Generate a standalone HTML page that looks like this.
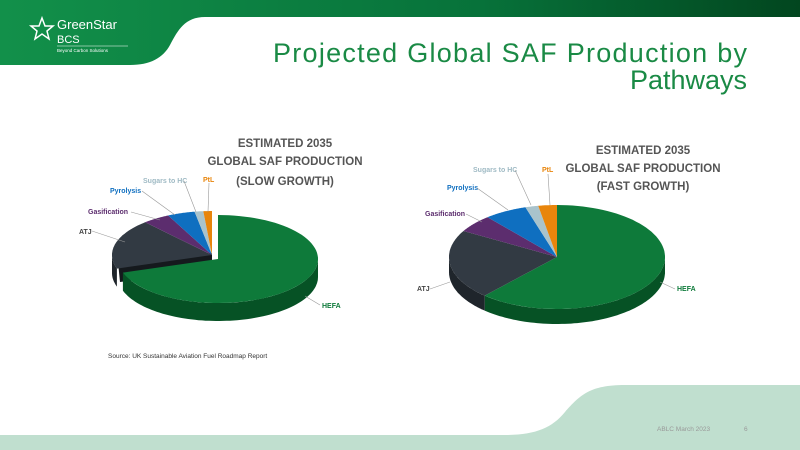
<!DOCTYPE html>
<html><head><meta charset="utf-8"><style>
html,body{margin:0;padding:0;background:#fff}
body{width:800px;height:450px;overflow:hidden;position:relative;font-family:"Liberation Sans",sans-serif}
</style></head><body>
<svg id="s" width="800" height="450" viewBox="0 0 800 450" xmlns="http://www.w3.org/2000/svg" style="position:absolute;left:0;top:0">
<defs>
<linearGradient id="hg" x1="0" x2="1" y1="0" y2="0">
<stop offset="0" stop-color="#12904a"/><stop offset="0.6" stop-color="#07723a"/><stop offset="1" stop-color="#02461f"/>
</linearGradient>
</defs>
<path d="M0 0 H800 V17 H205 C185 17 178 30 170 45 C163 58 150 65 130 65 H0 Z" fill="url(#hg)"/>
<path d="M800 385 H625 C590 385 580 395 565 412 C552 428 535 435 505 435 H0 V450 H800 Z" fill="#c0dfcf"/>
<text x="57" y="29" font-size="13" fill="#fff">GreenStar</text>
<text x="57" y="43" font-size="11" fill="#fff">BCS</text>
<line x1="57" y1="46" x2="128" y2="46" stroke="#fff" stroke-width="0.5"/>
<text x="57" y="52" font-size="4.5" fill="#fff">Beyond Carbon Solutions</text>
<polygon points="42,18 45,26 53,26 47,31 49,39 42,34 35,39 37,31 31,26 39,26" fill="none" stroke="#fff" stroke-width="1.5"/>
<text x="747" y="62" font-size="27" fill="#1a8a45" text-anchor="end" textLength="474" lengthAdjust="spacing">Projected Global SAF Production by</text>
<text x="747" y="89" font-size="27" fill="#1a8a45" text-anchor="end">Pathways</text>
<g id="pies"></g>
<g font-weight="bold" fill="#555" font-size="11.5" text-anchor="middle">
<text x="285" y="147">ESTIMATED 2035</text><text x="285" y="165">GLOBAL SAF PRODUCTION</text><text x="285" y="185">(SLOW GROWTH)</text>
<text x="643" y="154">ESTIMATED 2035</text><text x="643" y="172">GLOBAL SAF PRODUCTION</text><text x="643" y="190">(FAST GROWTH)</text>
</g>
<g font-weight="bold" font-size="7">
<text x="79" y="234" fill="#444">ATJ</text>
<text x="88" y="214" fill="#5c2d6e">Gasification</text>
<text x="110" y="193" fill="#0f6fc0">Pyrolysis</text>
<text x="143" y="183" fill="#9fbac4">Sugars to HC</text>
<text x="203" y="182" fill="#e8850c">PtL</text>
<text x="322" y="308" fill="#0e7a3a">HEFA</text>
<text x="417" y="291" fill="#444">ATJ</text>
<text x="425" y="216" fill="#5c2d6e">Gasification</text>
<text x="447" y="190" fill="#0f6fc0">Pyrolysis</text>
<text x="473" y="172" fill="#9fbac4">Sugars to HC</text>
<text x="542" y="172" fill="#e8850c">PtL</text>
<text x="677" y="291" fill="#0e7a3a">HEFA</text>
</g>
<g stroke="#999" stroke-width="0.6" fill="none">
<path d="M92 231 L125 242"/><path d="M131 212 L160 220"/><path d="M142 191 L175 215"/><path d="M184 181 L196 212"/><path d="M209 183 L208 212"/><path d="M320 305 L305 296"/>
<path d="M430 289 L450 282"/><path d="M466 214 L482 222"/><path d="M477 188 L508 210"/><path d="M515 170 L531 205"/><path d="M548 174 L550 205"/><path d="M675 289 L660 282"/>
</g>
<text x="108" y="358" font-size="6.5" fill="#333">Source: UK Sustainable Aviation Fuel Roadmap Report</text>
<text x="657" y="431" font-size="6.5" fill="#999">ABLC March 2023</text>
<text x="744" y="431" font-size="6.5" fill="#999">6</text>
</svg>
<script>
var g=document.getElementById('pies');
var C={H:['#0e7a3a','#065225'],A:['#323a43','#1f252b'],G:['#5c2d6e','#3e1d4b'],P:['#0f6fc0','#0a4c85'],S:['#a9c3cc','#7f979f'],L:['#e8850c','#a85f08']};
function pt(cx,cy,rx,ry,a){a=a*Math.PI/180;return [cx+rx*Math.sin(a),cy-ry*Math.cos(a)];}
function arc(cx,cy,rx,ry,a0,a1,dy){var s='';for(var a=a0;a<=a1+0.001;a+=Math.max(0.5,(a1-a0)/80)){var p=pt(cx,cy+dy,rx,ry,Math.min(a,a1));s+=p[0].toFixed(1)+' '+p[1].toFixed(1)+' L';}var p=pt(cx,cy+dy,rx,ry,a1);return s+p[0].toFixed(1)+' '+p[1].toFixed(1);}
function pie(cx,cy,rx,ry,h,sl){var html='';
sl.forEach(function(q){var ox=q[3]||0,oy=q[4]||0;var a0=Math.max(q[1],90),a1=Math.min(q[2],270);
if(a1>a0){html+='<path d="M'+arc(cx+ox,cy+oy,rx,ry,a0,a1,0)+' L'+arc(cx+ox,cy+oy,rx,ry,a0,a1,h).split(' L').reverse().join(' L')+' Z" fill="'+C[q[0]][1]+'"/>';}
});
sl.forEach(function(q){var ox=q[3]||0,oy=q[4]||0;
html+='<path d="M'+(cx+ox)+' '+(cy+oy)+' L'+arc(cx+ox,cy+oy,rx,ry,q[1],q[2],0)+' Z" fill="'+C[q[0]][0]+'"/>';});
g.innerHTML+=html;}
g.innerHTML+='<path d="M118 262 L212 253 L212 271 L120 282 Z" fill="#15191d"/>';
pie(212,255,100,44,18,[['A',252,318],['G',318,334],['P',334,350],['S',350,355],['L',355,360],['H',0,252,6,4]]);
pie(557,257,108,52,15,[['H',0,222],['A',222,300],['G',300,320],['P',320,343],['S',343,350],['L',350,360]]);
</script>
</body></html>
